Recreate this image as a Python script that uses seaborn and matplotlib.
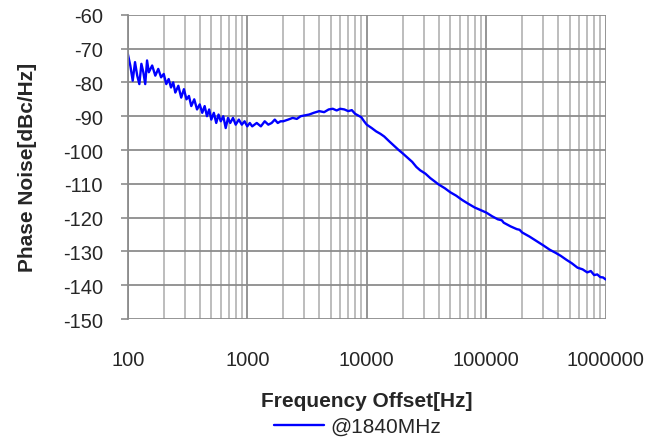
import pandas as pd
import matplotlib
matplotlib.use("Agg")
import matplotlib.pyplot as plt
import matplotlib.ticker as mticker
import seaborn as sns

freq = [100, 105, 110, 115, 120, 125, 130, 135, 140, 145, 150, 160, 170, 180, 190,
        200, 210, 220, 230, 240, 250, 265, 280, 295, 310, 325, 340, 360, 380, 400,
        420, 440, 460, 480, 500, 525, 550, 575, 600, 630, 660, 690, 720, 760, 800,
        850, 900, 950, 1000, 1050, 1100, 1150, 1200, 1300, 1400, 1500, 1600, 1700,
        1800, 1900, 2000, 2200, 2400, 2600, 2800, 3000, 3300, 3600, 4000, 4400, 4800,
        5200, 5600, 6000, 6500, 7000, 7500, 8000, 8500, 9000, 9500, 10000, 11000,
        12000, 13000, 14000, 15500, 17000, 18500, 20000, 22000, 24000, 26000, 28000,
        31000, 34000, 37000, 40000, 45000, 50000, 56000, 63000, 70000, 80000, 90000,
        100000, 112000, 125000, 135000, 140000, 160000, 180000, 190000, 200000,
        230000, 260000, 300000, 340000, 380000, 420000, 470000, 520000, 580000,
        640000, 700000, 750000, 800000, 850000, 900000, 950000, 1000000]
noise = [-71.5, -75, -79.5, -74, -78, -80.5, -74.5, -77, -80.5, -73.5, -77, -75, -78, -76, -78.5,
         -77.5, -80.5, -79, -81.5, -80, -83, -81, -84.5, -82, -85, -84, -87, -85, -88, -86.5,
         -89, -87, -90, -88, -91, -89, -92, -89.5, -91.5, -90, -93.5, -90.5, -92, -90.5, -92.5,
         -91, -92.5, -91.5, -93, -92, -93, -92.5, -92, -93, -91.5, -92.5, -92, -91,
         -92, -91.5, -91.5, -91, -90.5, -90.8, -90, -89.8, -89.5, -89, -88.5, -88.8, -88,
         -87.8, -88.3, -87.8, -88, -88.5, -88.2, -89.3, -89.8, -90.3, -91.5, -92.5, -93.5,
         -94.5, -95.2, -96, -97.5, -98.8, -100, -101, -102.3, -103.5, -105, -106,
         -107, -108.3, -109.3, -110.2, -111.3, -112.5, -113.5, -114.8, -115.8, -117, -117.8,
         -118.5, -119.6, -120.5, -120.8, -121.5, -122.6, -123.4, -123.6, -124.4,
         -125.6, -126.8, -128.2, -129.5, -130.4, -131.3, -132.5, -133.5, -134.8,
         -135.3, -136.2, -135.8, -137.0, -136.8, -137.6, -137.7, -138.3]
series = "@1840MHz"

df = pd.DataFrame({"Frequency": freq, "PN": noise, "Series": series})

sns.set_style("white")
plt.rcParams["font.family"] = ["Liberation Sans", "DejaVu Sans"]
plt.rcParams["axes.unicode_minus"] = False
FS = 14.5
LFS = 15

fig = plt.figure(figsize=(6.62, 4.39), dpi=100)
ax = fig.add_axes([0.193, 0.271, 0.722, 0.693])

ax.set_xscale("log")
sns.lineplot(data=df, x="Frequency", y="PN", hue="Series", palette={series: "#0000ff"},
             linewidth=1.7, ax=ax, legend=False)

ax.set_xlim(100, 1e6)
ax.set_ylim(-150, -60)
ax.set_yticks(range(-150, -59, 10))
ax.xaxis.set_major_locator(mticker.LogLocator(base=10, numticks=10))
ax.xaxis.set_minor_locator(mticker.LogLocator(base=10, subs=range(2, 10), numticks=100))
ax.xaxis.set_major_formatter(mticker.FuncFormatter(lambda v, p: f"{int(round(v))}"))
ax.xaxis.set_minor_formatter(mticker.NullFormatter())

ax.grid(True, which="major", axis="both", color="#8c8c8c", linewidth=1.3)
ax.grid(True, which="minor", axis="x", color="#b8b8b8", linewidth=1.3)
ax.set_axisbelow(True)

for s in ["top", "right", "bottom"]:
    ax.spines[s].set_visible(False)
ax.spines["left"].set_color("#8c8c8c")
ax.spines["left"].set_linewidth(1.3)

ax.tick_params(axis="y", which="major", length=5, width=1.2, color="#8c8c8c",
               direction="out", labelsize=FS, pad=13, left=True)
ax.tick_params(axis="x", which="both", length=0, labelsize=FS, pad=22)

ax.set_xlabel("Frequency Offset[Hz]", fontsize=LFS, fontweight="bold")
ax.xaxis.set_label_coords(0.5, -0.235)
ax.set_ylabel("Phase Noise[dBc/Hz]", fontsize=LFS, fontweight="bold")
ax.yaxis.set_label_coords(-0.19, 0.5)

handle = plt.Line2D([], [], color="#0000ff", linewidth=1.7)
fig.legend([handle], [series], loc="center", bbox_to_anchor=(0.54, 0.026),
           frameon=False, fontsize=LFS, handlelength=2.4, handletextpad=0.3,
           borderpad=0, borderaxespad=0)

fig.savefig("out.png", dpi=100)
